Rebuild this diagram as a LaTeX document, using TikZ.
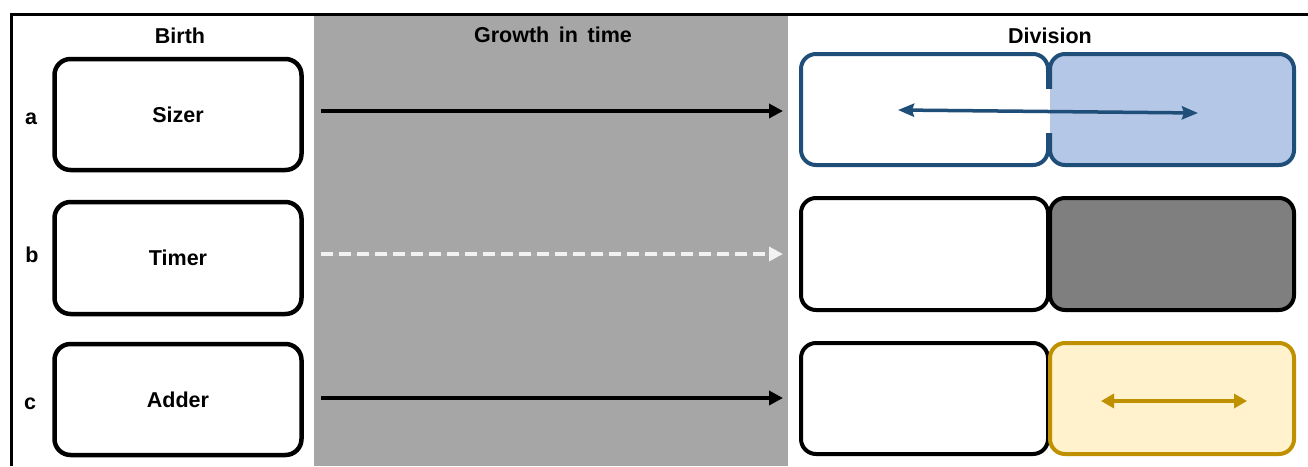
\documentclass[tikz,border=0pt]{standalone}
\usepackage{fontspec}
\setmainfont{Liberation Sans}
\usetikzlibrary{arrows.meta}
\definecolor{bandgray}{HTML}{A6A6A6}
\definecolor{darkfill}{HTML}{7F7F7F}
\definecolor{dashcol}{HTML}{F2F2F2}
\definecolor{blueline}{HTML}{1F4E79}
\definecolor{bluefill}{HTML}{B4C7E7}
\definecolor{goldline}{HTML}{BF9000}
\definecolor{goldfill}{HTML}{FFF2CC}
\tikzset{
  lbl/.style={font=\fontsize{21.5}{25}\selectfont\bfseries, inner sep=0pt, anchor=base},
  birthbox/.style={draw=black, line width=4.5pt, rounded corners=16pt, fill=white,
    minimum width=247pt, minimum height=111pt, inner sep=0pt,
    font=\fontsize{21.5}{25}\selectfont\bfseries},
  divbox/.style={line width=4pt, rounded corners=15pt, minimum height=111pt, inner sep=0pt},
  growarrow/.style={line width=3.5pt, -{Triangle[length=14pt,width=14pt]}},
  dblarrow/.style={line width=3.5pt, {Stealth[inset=2pt,length=16pt,width=13pt]}-{Stealth[inset=2pt,length=16pt,width=13pt]}},
  goldarrow/.style={line width=4pt, draw=goldline, {Triangle[length=13pt,width=14pt]}-{Triangle[length=13pt,width=14pt]}}
}
\begin{document}
\begin{tikzpicture}[x=1pt,y=-1pt]
\useasboundingbox (0,0) rectangle (1308,466);
\fill[white] (0,0) rectangle (1308,466);
% band
\fill[bandgray] (314,15) rectangle (788,466);
% frame lines
\draw[line width=3pt] (11,466) -- (11,14) -- (1308,14);
% headers
\node[lbl] (hbirth) at (180,43) {Birth};
\node[lbl] (hgrowth) at (553,42) {Growth\hspace{0.45em}in\hspace{0.45em}time};
\node[lbl] (hdiv) at (1050,43) {Division};
% row labels
\node[lbl] (la) at (31,124) {a};
\node[lbl] (lb) at (32,262) {b};
\node[lbl] (lc) at (30,409) {c};
% birth boxes
\node[birthbox] (sizer) at (178,114.5) {Sizer};
\node[birthbox, minimum height=112pt] (timer) at (178,258) {Timer};
\node[birthbox] (adder) at (178,399.5) {Adder};
% division boxes row a
\node[divbox, draw=blueline, fill=white, minimum width=247pt] (a1) at (924.5,109.5) {};
\node[divbox, draw=blueline, fill=bluefill, minimum width=244pt] (a2) at (1172,109.5) {};
\fill[white] (1045,89) rectangle (1050,133);
\fill[bluefill] (1050,89) rectangle (1053,133);
% row b
\node[divbox, draw=black, fill=white, minimum width=247pt, minimum height=112pt] (b1) at (924.5,254) {};
\node[divbox, draw=black, fill=darkfill, minimum width=244pt, minimum height=112pt] (b2) at (1172,254) {};
% row c
\node[divbox, draw=black, fill=white, minimum width=247pt] (c1) at (924.5,398.5) {};
\node[divbox, draw=goldline, fill=goldfill, minimum width=244pt] (c2) at (1172,398.5) {};
% growth arrow coordinates
\coordinate (gas) at (321,111);
\coordinate (gae) at (783,111);
\coordinate (gbs) at (321,254);
\coordinate (gbe) at (783,254);
\coordinate (gcs) at (321,398);
\coordinate (gce) at (783,398);
\draw[growarrow] (gas) -- (gae);
\draw[growarrow, draw=dashcol, fill=dashcol, dash pattern=on 12pt off 6pt] (gbs) -- (gbe);
\draw[growarrow] (gcs) -- (gce);
% inner arrows
\coordinate (das) at (898,110);
\coordinate (dae) at (1198,113);
\draw[dblarrow, draw=blueline, fill=blueline] (das) -- (dae);
\coordinate (dcs) at (1101,401);
\coordinate (dce) at (1247,401);
\draw[goldarrow, fill=goldline] (dcs) -- (dce);
\end{tikzpicture}
\end{document}
